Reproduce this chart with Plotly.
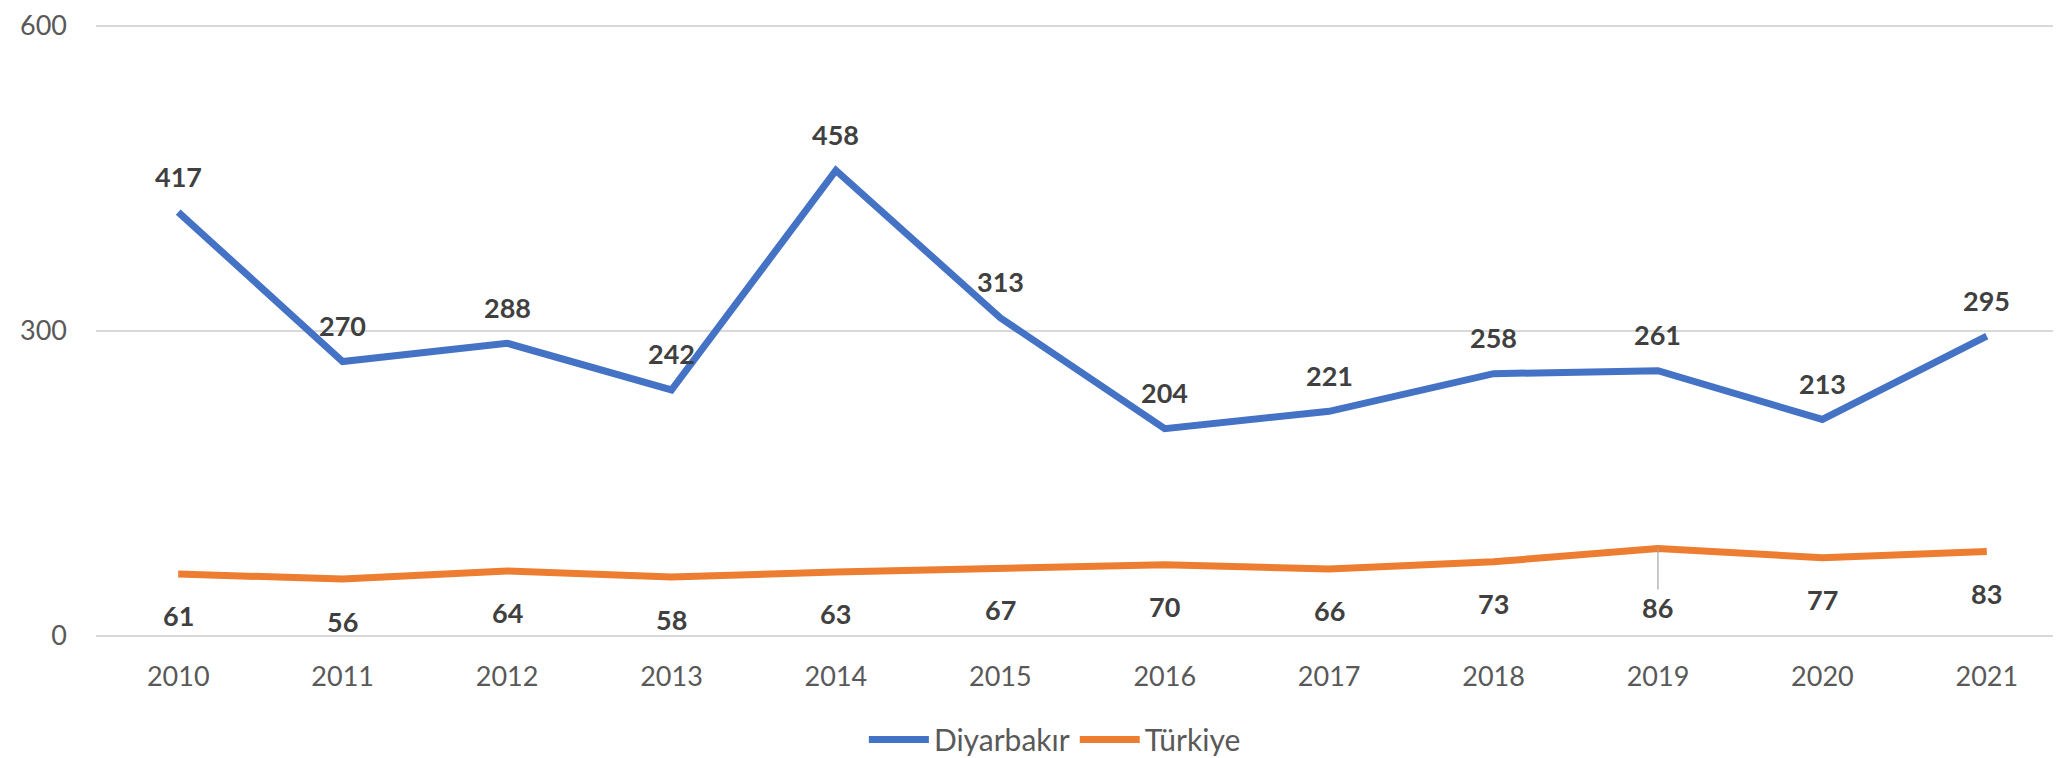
import plotly.graph_objects as go

years = ['2010', '2011', '2012', '2013', '2014', '2015', '2016', '2017', '2018', '2019', '2020', '2021']
diyarbakir = [417, 270, 288, 242, 458, 313, 204, 221, 258, 261, 213, 295]
turkiye = [61, 56, 64, 58, 63, 67, 70, 66, 73, 86, 77, 83]

FONT = 'Lato'
TICK_COLOR = '#595959'
LABEL_COLOR = '#404040'

fig = go.Figure()

fig.add_trace(go.Scatter(
    x=years, y=diyarbakir, mode='lines', name='Diyarbakır',
    line=dict(color='#4472C4', width=7),
))
fig.add_trace(go.Scatter(
    x=years, y=turkiye, mode='lines', name='Türkiye',
    line=dict(color='#ED7D31', width=7),
))

# data labels (x given as category index, year strings would be read as numbers)
annotations = []
for i, v in enumerate(diyarbakir):
    annotations.append(dict(
        x=i, y=v, xref='x', yref='y', text=f'<b>{v}</b>', showarrow=False,
        yshift=36, font=dict(family=FONT, size=27, color=LABEL_COLOR),
    ))
for i, v in enumerate(turkiye):
    if years[i] == '2019':
        # this label was pulled down, so it gets a leader line
        annotations.append(dict(
            x=i, y=v, xref='x', yref='y', text=f'<b>{v}</b>', showarrow=True,
            ax=0, ay=59, arrowhead=0, arrowwidth=1.2, arrowcolor='#A6A6A6',
            font=dict(family=FONT, size=27, color=LABEL_COLOR),
        ))
    else:
        annotations.append(dict(
            x=i, y=v, xref='x', yref='y', text=f'<b>{v}</b>', showarrow=False,
            yshift=-42, font=dict(family=FONT, size=27, color=LABEL_COLOR),
        ))

fig.update_layout(
    width=2061,
    height=758,
    margin=dict(l=88, r=0, t=16, b=124),
    paper_bgcolor='white',
    plot_bgcolor='white',
    font=dict(family=FONT, size=27, color=TICK_COLOR),
    annotations=annotations,
    legend=dict(
        orientation='h', x=0.486, xanchor='center', y=-0.169, yanchor='middle',
        font=dict(family=FONT, size=30, color=TICK_COLOR),
        itemwidth=60,
    ),
    xaxis=dict(
        type='category', range=[-0.5, 11.5], showgrid=False, showline=False,
        ticks='', ticklabelstandoff=22,
        tickfont=dict(family=FONT, size=27, color=TICK_COLOR),
    ),
    yaxis=dict(
        range=[0, 602], tickvals=[0, 300, 600], showgrid=True,
        gridcolor='#D9D9D9', gridwidth=1.5, zeroline=True, zerolinecolor='#D9D9D9',
        zerolinewidth=1.5, showline=False, ticks='', ticklabelstandoff=28,
        tickfont=dict(family=FONT, size=27, color=TICK_COLOR),
    ),
)

fig.write_html('out.html')
